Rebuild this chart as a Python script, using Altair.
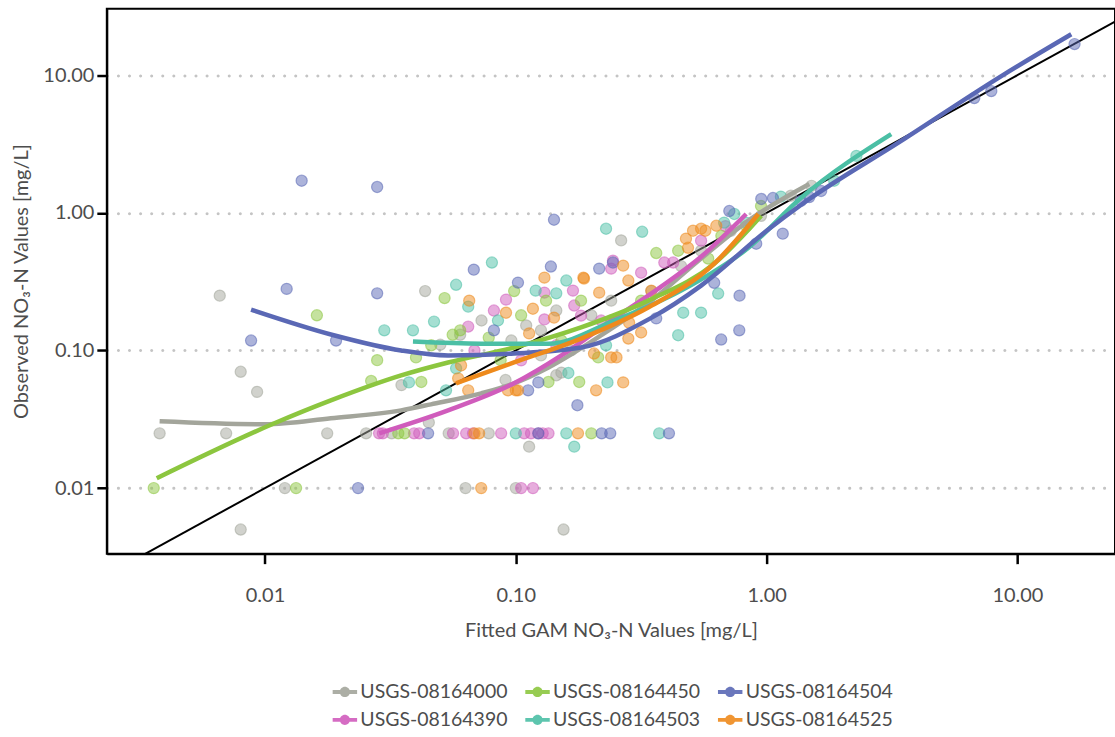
import altair as alt
import pandas as pd

# Site identifiers; legend fills column by column, two rows
sites = ["USGS-08164000", "USGS-08164390", "USGS-08164450",
         "USGS-08164503", "USGS-08164504", "USGS-08164525"]
site_colors = ["#a3a59b", "#d05cbc", "#8cc63f", "#4bbfa5", "#5a68b5", "#ee8a1c"]

# Observed vs fitted NO3-N samples, (fitted, observed) in mg/L
pts_08164000 = [(0.0038, 0.025), (0.0066, 0.25), (0.008, 0.07), (0.0093, 0.05), (0.007, 0.025),
                (0.0177, 0.025), (0.0253, 0.025), (0.012, 0.01), (0.008, 0.005), (0.063, 0.01),
                (0.1, 0.01), (0.155, 0.005), (0.113, 0.02), (0.032, 0.025), (0.054, 0.025),
                (0.078, 0.025), (0.0435, 0.27), (0.05, 0.11), (0.06, 0.13), (0.073, 0.165),
                (0.096, 0.118), (0.11, 0.152), (0.126, 0.14), (0.145, 0.195), (0.166, 0.10),
                (0.2, 0.18), (0.24, 0.23), (0.347, 0.27), (0.456, 0.41), (0.548, 0.53),
                (0.72, 0.74), (0.95, 0.95), (1.25, 1.33), (1.51, 1.57), (0.091, 0.061),
                (0.126, 0.092), (0.145, 0.066), (0.035, 0.056), (0.263, 0.63), (0.152, 0.069),
                (0.045, 0.03)]
pts_08164450 = [(0.0036, 0.01), (0.0133, 0.01), (0.0161, 0.18), (0.0265, 0.06), (0.052, 0.24),
                (0.034, 0.025), (0.036, 0.025), (0.042, 0.059), (0.135, 0.059), (0.179, 0.059),
                (0.2, 0.025), (0.0985, 0.27), (0.105, 0.18), (0.056, 0.13), (0.078, 0.124),
                (0.04, 0.089), (0.444, 0.53), (0.213, 0.089), (0.182, 0.23), (0.585, 0.465),
                (0.06, 0.14), (0.66, 0.68), (0.83, 0.8), (0.132, 0.23), (0.152, 0.118),
                (0.24, 0.165), (0.316, 0.23), (0.95, 1.12), (0.363, 0.51), (0.028, 0.085),
                (0.046, 0.109), (0.087, 0.085)]
pts_08164504 = [(0.014, 1.71), (0.028, 1.54), (0.0122, 0.28), (0.028, 0.26), (0.0088, 0.118),
                (0.0192, 0.118), (0.0235, 0.01), (0.068, 0.386), (0.142, 0.89), (0.176, 0.04),
                (0.22, 0.025), (0.408, 0.025), (0.123, 0.025), (0.618, 0.31), (0.78, 0.25),
                (0.778, 0.14), (0.659, 0.12), (0.363, 0.171), (0.71, 1.03), (0.909, 0.596),
                (0.952, 1.26), (1.06, 1.28), (1.16, 0.705), (1.37, 1.22), (6.73, 6.81),
                (7.87, 7.66), (16.9, 16.8), (0.102, 0.311), (0.138, 0.407), (0.123, 0.0586),
                (0.215, 0.393), (0.0818, 0.14), (0.112, 0.0513), (0.238, 0.025), (0.0447, 0.025),
                (0.244, 0.435), (1.48, 1.3), (1.65, 1.44)]
pts_08164390 = [(0.0285, 0.025), (0.0295, 0.025), (0.0393, 0.025), (0.0412, 0.025), (0.0562, 0.025),
                (0.0634, 0.025), (0.0675, 0.025), (0.0874, 0.025), (0.108, 0.025), (0.115, 0.025),
                (0.123, 0.025), (0.128, 0.025), (0.135, 0.025), (0.105, 0.01), (0.117, 0.01),
                (0.0914, 0.234), (0.13, 0.263), (0.13, 0.168), (0.0646, 0.149), (0.0684, 0.10),
                (0.0818, 0.195), (0.169, 0.272), (0.171, 0.212), (0.24, 0.393), (0.316, 0.367),
                (0.391, 0.435), (0.424, 0.435), (0.244, 0.449), (0.548, 0.627), (0.685, 0.80),
                (0.182, 0.179), (0.219, 0.165), (0.145, 0.109), (0.105, 0.0847)]
pts_08164503 = [(0.0299, 0.14), (0.0472, 0.162), (0.0389, 0.14), (0.0803, 0.435), (0.0578, 0.30),
                (0.0646, 0.208), (0.229, 0.766), (0.319, 0.728), (0.641, 0.259), (0.548, 0.188),
                (0.465, 0.188), (0.444, 0.129), (0.373, 0.025), (0.171, 0.02), (0.159, 0.025),
                (0.229, 0.109), (0.159, 0.322), (1.86, 1.71), (2.28, 2.59), (0.829, 0.848),
                (0.677, 0.848), (1.14, 1.31), (0.0527, 0.0513), (0.0375, 0.0586), (0.232, 0.0586),
                (0.1, 0.025), (0.0849, 0.165), (0.12, 0.272), (0.145, 0.26), (0.162, 0.0686),
                (0.0578, 0.0741), (0.743, 0.98)]
pts_08164525 = [(0.0728, 0.01), (0.102, 0.0513), (0.093, 0.0513), (0.0646, 0.0513), (0.268, 0.0586),
                (0.209, 0.0513), (0.177, 0.025), (0.0714, 0.025), (0.509, 0.741), (0.548, 0.766),
                (0.477, 0.649), (0.486, 0.557), (0.187, 0.333), (0.268, 0.413), (0.215, 0.263),
                (0.281, 0.322), (0.281, 0.122), (0.24, 0.089), (0.252, 0.089), (0.316, 0.135),
                (0.283, 0.159), (0.13, 0.338), (0.186, 0.338), (0.0652, 0.23), (0.0914, 0.188),
                (0.117, 0.201), (0.142, 0.173), (0.1, 0.0513), (0.57, 0.741), (0.63, 0.805),
                (0.0684, 0.025), (0.113, 0.133), (0.205, 0.095), (0.0589, 0.0627), (0.0605, 0.0778),
                (0.347, 0.272)]

# GAM smooth per site, sampled along the fitted axis
fit_08164000_x = [0.0038, 0.01, 0.0183, 0.0349, 0.0459, 0.0728, 0.0984, 0.135, 0.219, 0.347, 0.548, 0.868, 1.48]
fit_08164000_y = [0.0306, 0.0291, 0.0322, 0.0367, 0.0406, 0.0488, 0.0577, 0.0753, 0.129, 0.23, 0.465, 0.906, 1.62]
fit_08164450_x = [0.0037, 0.0109, 0.0183, 0.0349, 0.0537, 0.0984, 0.182, 0.337, 0.618, 0.952]
fit_08164450_y = [0.0118, 0.0296, 0.0434, 0.0659, 0.0818, 0.105, 0.147, 0.23, 0.427, 0.95]
fit_08164504_x = [0.0088, 0.0188, 0.0349, 0.0537, 0.0984, 0.182, 0.344, 0.548, 1.0, 1.37, 3.44, 8.63, 16.4]
fit_08164504_y = [0.198, 0.129, 0.1, 0.092, 0.095, 0.105, 0.171, 0.296, 0.741, 1.14, 3.33, 9.84, 19.8]
fit_08164390_x = [0.0285, 0.0537, 0.0984, 0.152, 0.247, 0.38, 0.548, 0.829]
fit_08164390_y = [0.025, 0.0367, 0.0577, 0.092, 0.171, 0.291, 0.48, 0.98]
fit_08164503_x = [0.0389, 0.0728, 0.135, 0.247, 0.456, 0.846, 1.37, 3.14]
fit_08164503_y = [0.116, 0.112, 0.112, 0.165, 0.272, 0.557, 1.28, 3.73]
fit_08164525_x = [0.0578, 0.0984, 0.182, 0.337, 0.618, 0.927]
fit_08164525_y = [0.0577, 0.0818, 0.122, 0.205, 0.427, 0.98]

# 1:1 reference line
one_to_one = [0.001, 100.0]

x_ticks = [0.01, 0.1, 1, 10]
y_ticks = [0.01, 0.1, 1, 10]
x_domain = [0.00234, 24.5]
y_domain = [0.00334, 30.4]

FONT = "Lato"
TEXT = "#4d4d4d"

point_sets = {
    "USGS-08164000": pts_08164000, "USGS-08164390": pts_08164390,
    "USGS-08164450": pts_08164450, "USGS-08164503": pts_08164503,
    "USGS-08164504": pts_08164504, "USGS-08164525": pts_08164525,
}
fit_sets = {
    "USGS-08164000": (fit_08164000_x, fit_08164000_y),
    "USGS-08164390": (fit_08164390_x, fit_08164390_y),
    "USGS-08164450": (fit_08164450_x, fit_08164450_y),
    "USGS-08164503": (fit_08164503_x, fit_08164503_y),
    "USGS-08164504": (fit_08164504_x, fit_08164504_y),
    "USGS-08164525": (fit_08164525_x, fit_08164525_y),
}

pts = pd.DataFrame(
    [{"site": s, "fitted": x, "observed": y} for s, rows in point_sets.items() for x, y in rows]
)
fits = pd.DataFrame(
    [{"site": s, "fitted": x, "observed": y, "i": i}
     for s, (xs, ys) in fit_sets.items() for i, (x, y) in enumerate(zip(xs, ys))]
)
ref = pd.DataFrame({"fitted": one_to_one, "observed": one_to_one})

x_scale = alt.Scale(type="log", domain=x_domain, nice=False, zero=False)
y_scale = alt.Scale(type="log", domain=y_domain, nice=False, zero=False)
color_scale = alt.Scale(domain=sites, range=site_colors)

# key glyph: a short bar with a dot on it
key_path = ("M-1,-0.16L1,-0.16L1,0.16L-1,0.16Z "
            "M0.42,0A0.42,0.42,0,1,1,-0.42,0A0.42,0.42,0,1,1,0.42,0Z")

x_enc = alt.X("fitted:Q", scale=x_scale, axis=alt.Axis(
    values=x_ticks, format=".2f", title="Fitted GAM NO₃-N Values [mg/L]",
    grid=False, labelPadding=22, titlePadding=15))
y_enc = alt.Y("observed:Q", scale=y_scale, axis=alt.Axis(
    values=y_ticks, format=".2f", title="Observed NO₃-N Values [mg/L]",
    grid=True, labelPadding=3, titlePadding=11))

ref_line = alt.Chart(ref).mark_line(color="black", strokeWidth=2, clip=True).encode(
    x=x_enc, y=y_enc)

points = alt.Chart(pts).mark_circle(size=125, fillOpacity=0.5, strokeOpacity=0.55,
                                    strokeWidth=1.2, clip=True).encode(
    x=x_enc, y=y_enc,
    color=alt.Color("site:N", scale=color_scale, legend=alt.Legend(
        title=None, orient="none", legendX=226, legendY=672, columns=3,
        symbolType=key_path, symbolSize=600, symbolStrokeWidth=0, symbolOpacity=0.9,
        labelFontSize=19.5, labelFont=FONT, labelColor=TEXT, labelOffset=3,
        columnPadding=17, rowPadding=6, labelLimit=300)),
    stroke=alt.Stroke("site:N", scale=color_scale, legend=None),
)

curves = alt.Chart(fits).mark_line(strokeWidth=4.5, interpolate="monotone", clip=True).encode(
    x=x_enc, y=y_enc,
    color=alt.Color("site:N", scale=color_scale, legend=None),
    order="i:Q",
)

chart = alt.layer(ref_line, points, curves).properties(
    width=1010, height=546,
    autosize=alt.AutoSizeParams(type="none"),
    padding={"left": 107, "top": 8, "right": 0, "bottom": 183},
).configure_view(
    stroke="black", strokeWidth=2,
).configure_axis(
    labelFont=FONT, labelFontSize=20, labelColor=TEXT,
    titleFont=FONT, titleFontSize=20, titleFontWeight="normal", titleColor=TEXT,
    tickColor="black", tickWidth=2.5, tickSize=10,
    domainColor="black", domainWidth=2,
    gridColor="#c4c4c4", gridWidth=3, gridDash=[0.1, 11], gridCap="round",
)

chart.save("out.html", embed_options={"renderer": "svg", "actions": False})
